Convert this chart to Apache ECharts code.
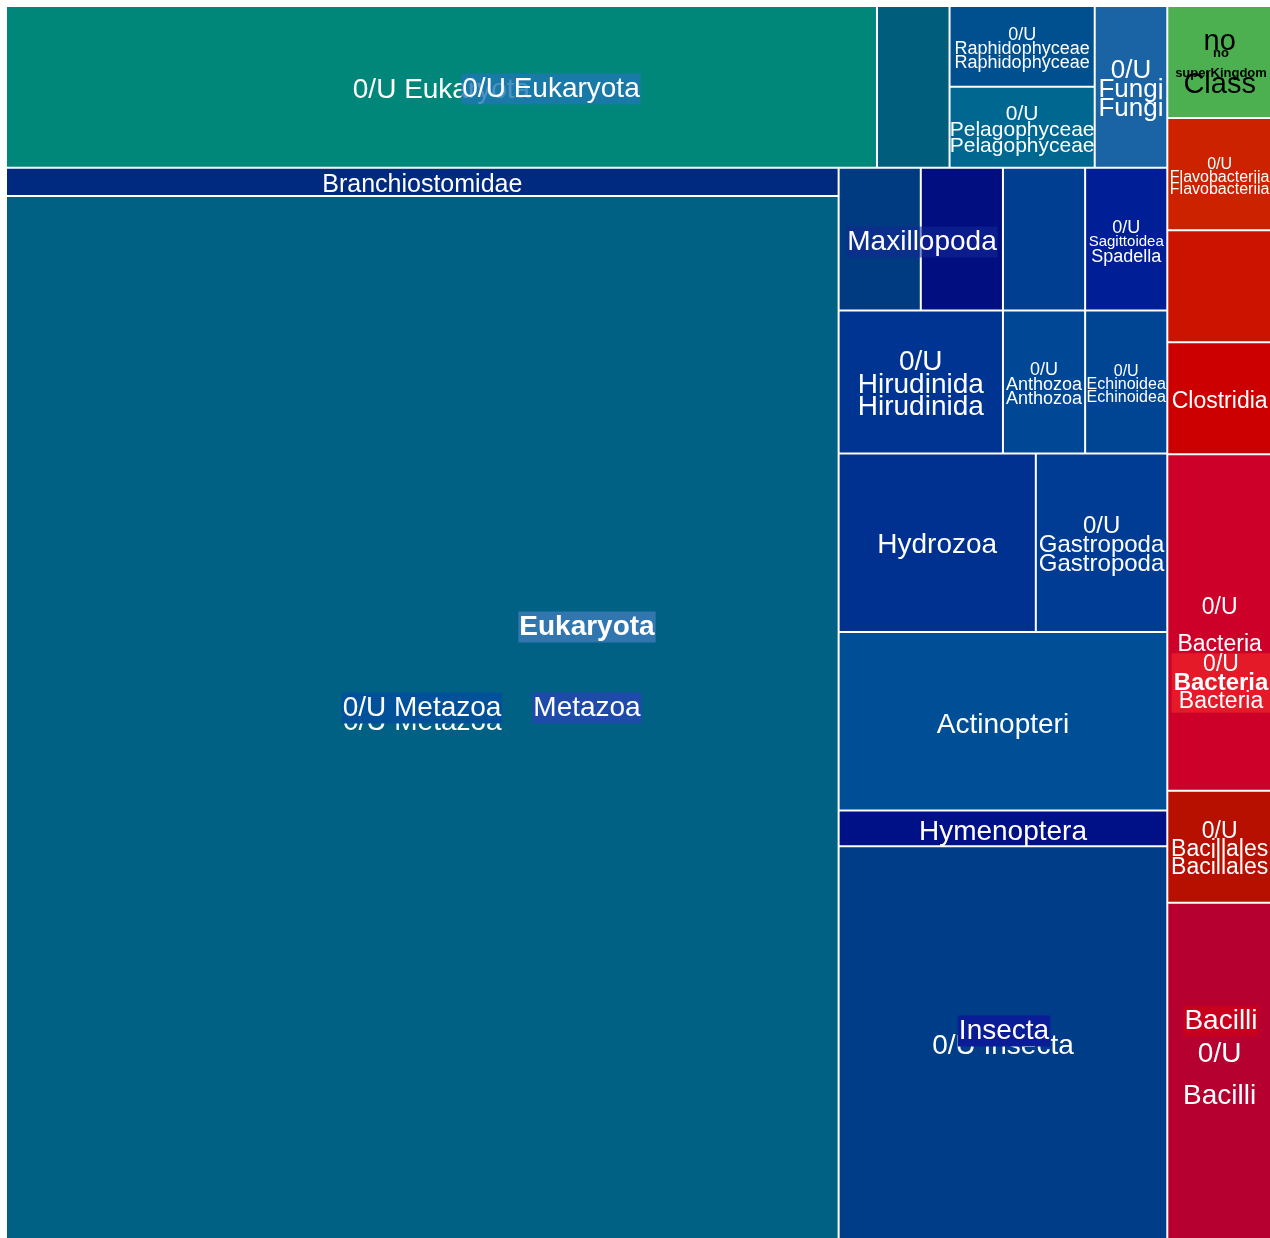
<!DOCTYPE html>
<html>
<head>
<meta charset="utf-8">
<script src="https://cdn.jsdelivr.net/npm/echarts@6/dist/echarts.min.js"></script>
<style>
  html, body { margin: 0; padding: 0; background: #fff; overflow: hidden; }
  #main { width: 1270px; height: 1238px; }
</style>
</head>
<body>
<div id="main"></div>
<script>
// counts per taxon, grouped the way the boxes are nested
const topNames = ['Eukaryota', 'unlabelled-1', 'Raphidophyceae', 'Pelagophyceae', 'Fungi'];
const topCounts = [12, 1, 1, 1, 1];
const chordNames = ['Branchiostomidae', 'Metazoa'];
const chordCounts = [2, 74];
const row1Names = ['Maxillopoda', 'unlabelled-2', 'unlabelled-3', 'Sagittoidea'];
const row1Counts = [1, 1, 1, 1];
const row2Names = ['Hirudinida', 'Anthozoa', 'Echinoidea'];
const row2Counts = [2, 1, 1];
const row3Names = ['Hydrozoa', 'Gastropoda'];
const row3Counts = [3, 2];
const lowNames = ['Actinopteri', 'Hymenoptera', 'Insecta'];
const lowCounts = [5, 1, 11];
const bactNames = ['no superKingdom', 'Flavobacteriia', 'unlabelled-4', 'Clostridia', 'Bacteria', 'Bacillales', 'Bacilli'];
const bactCounts = [1, 1, 1, 1, 3, 1, 3];

const FONT = '"Liberation Sans", Arial, sans-serif';
const LABEL_SHIFT = 3;

const colors = {
    'Eukaryota': '#00877A',
    'unlabelled-1': '#005E7C',
    'Raphidophyceae': '#00508F',
    'Pelagophyceae': '#006890',
    'Fungi': '#1A64A6',
    'Branchiostomidae': '#002A80',
    'Metazoa': '#006184',
    'Maxillopoda': '#003A80',
    'unlabelled-2': '#000E80',
    'unlabelled-3': '#003E92',
    'Sagittoidea': '#001F96',
    'Hirudinida': '#003492',
    'Anthozoa': '#004795',
    'Echinoidea': '#004494',
    'Hydrozoa': '#003190',
    'Gastropoda': '#003C94',
    'Actinopteri': '#004E96',
    'Hymenoptera': '#001086',
    'Insecta': '#003D88',
    'no superKingdom': '#4CAF50',
    'Flavobacteriia': '#CC2200',
    'unlabelled-4': '#CC1300',
    'Clostridia': '#CC0000',
    'Bacteria': '#CC0028',
    'Bacillales': '#B70F00',
    'Bacilli': '#B6002F',
};

// text shown inside each leaf (lines overlap on purpose, like the source)
const labelSpec = {
    'Eukaryota': { text: '0/U Eukaryota', size: 28, lh: 30 },
    'Raphidophyceae': { text: '0/U\nRaphidophyceae\nRaphidophyceae', size: 18, lh: 14 },
    'Pelagophyceae': { text: '0/U\nPelagophyceae\nPelagophyceae', size: 21, lh: 16 },
    'Fungi': { text: '0/U\nFungi\nFungi', size: 26, lh: 19 },
    'Branchiostomidae': { text: 'Branchiostomidae', size: 25, lh: 24 },
    'Metazoa': { text: '0/U Metazoa', size: 28, lh: 30, dy: 2 },
    'Sagittoidea': {
        text: '{a|0/U}\n{b|Sagittoidea}\n{a|Spadella}', size: 18, lh: 14.5,
        rich: {
            a: { fontSize: 18, lineHeight: 14.5, color: '#fff', fontFamily: FONT },
            b: { fontSize: 15, lineHeight: 14.5, color: '#fff', fontFamily: FONT },
        },
    },
    'Hirudinida': { text: '0/U\nHirudinida\nHirudinida', size: 28, lh: 22.5 },
    'Anthozoa': { text: '0/U\nAnthozoa\nAnthozoa', size: 18, lh: 14.5 },
    'Echinoidea': { text: '0/U\nEchinoidea\nEchinoidea', size: 16, lh: 13 },
    'Hydrozoa': { text: 'Hydrozoa', size: 28, lh: 30 },
    'Gastropoda': { text: '0/U\nGastropoda\nGastropoda', size: 24, lh: 19 },
    'Actinopteri': { text: 'Actinopteri', size: 28, lh: 30, dy: 1 },
    'Hymenoptera': { text: 'Hymenoptera', size: 28, lh: 30, dy: 1 },
    'Insecta': { text: '0/U Insecta', size: 28, lh: 30, dy: 1 },
    'no superKingdom': { text: 'no\n\nClass', size: 29, lh: 21.5, color: '#000', dy: -2 },
    'Flavobacteriia': { text: '0/U\nFlavobacteriia\nFlavobacteriia', size: 16, lh: 12.5 },
    'Clostridia': { text: 'Clostridia', size: 23, lh: 26 },
    'Bacteria': { text: '0/U\nBacteria', size: 23, lh: 37, dy: 1 },
    'Bacillales': { text: '0/U\nBacillales\nBacillales', size: 23, lh: 18 },
    'Bacilli': { text: '0/U\nBacilli', size: 28, lh: 42, dy: 1 },
};

// labels of the hidden parent levels, drawn over the boxes
const overlays = [
    { text: '0/U Eukaryota', x: 551, y: 89, size: 28, bg: 'rgba(31,119,180,0.8)' },
    { text: 'Eukaryota', x: 587, y: 627, size: 28, bold: true, bg: '#3276AF' },
    { text: '0/U Metazoa', x: 422, y: 708, size: 28, bg: '#00509A' },
    { text: 'Metazoa', x: 587, y: 708, size: 28, bg: '#1E4BAA' },
    { text: 'Maxillopoda', x: 922, y: 242, size: 28, bg: 'rgba(20,40,150,0.55)' },
    { text: 'Insecta', x: 1004, y: 1031, size: 28, bg: '#0A1C96' },
    { text: 'Bacilli', x: 1221, y: 1021, size: 28, bg: '#C8001E' },
    { text: 'no\nsuperKingdom', x: 1221, y: 63, size: 13, bold: true, lh: 20, color: '#000' },
];

// top padding per leaf, filled in once the layout is known (treemap labels sit at the top of the box)
const padTop = {};

function leaf(name, value) {
    const spec = labelSpec[name];
    return {
        name,
        value,
        itemStyle: { color: colors[name], borderColor: '#fff', borderWidth: 1 },
        label: spec ? {
            show: true,
            formatter: spec.text,
            fontSize: spec.size,
            lineHeight: spec.lh,
            color: spec.color || '#fff',
            padding: [padTop[name] || 0, 0, 0, 0],
            offset: [0, LABEL_SHIFT + (spec.dy || 0)],
            rich: spec.rich || {},
        } : { show: false },
    };
}

function leaves(names, counts) {
    return names.map((n, i) => leaf(n, counts[i]));
}

function group(name, children) {
    return {
        name,
        children,
        itemStyle: { borderWidth: 0, gapWidth: 0 },
        label: { show: false },
        upperLabel: { show: false },
    };
}

function buildData() {
    return [
        group('eukaryota-side', [
            group('top-strip', [
                leaf(topNames[0], topCounts[0]),
                leaf(topNames[1], topCounts[1]),
                group('stramenopiles', [leaf(topNames[2], topCounts[2]), leaf(topNames[3], topCounts[3])]),
                leaf(topNames[4], topCounts[4]),
            ]),
            group('animals', [
                group('chordates', leaves(chordNames, chordCounts)),
                group('others', [
                    group('row1', leaves(row1Names, row1Counts)),
                    group('row2', leaves(row2Names, row2Counts)),
                    group('row3', leaves(row3Names, row3Counts)),
                    ...leaves(lowNames, lowCounts),
                ]),
            ]),
        ]),
        group('bacteria-side', leaves(bactNames, bactCounts)),
    ];
}

const chart = echarts.init(document.getElementById('main'));
chart.setOption({
    animation: false,
    series: [{
        type: 'treemap',
        left: 6,
        top: 6,
        width: 1266,
        height: 1233,
        roam: false,
        nodeClick: false,
        breadcrumb: { show: false },
        sort: false,
        // tiny ratio: every child cuts its own strip across the short side
        squareRatio: 1e-6,
        visibleMin: 0,
        itemStyle: { borderWidth: 0, gapWidth: 0, borderColor: '#fff' },
        label: {
            show: true,
            position: 'inside',
            overflow: 'none',
            fontFamily: FONT,
            color: '#fff',
        },
        upperLabel: { show: false },
        emphasis: { disabled: true },
        data: buildData(),
    }],
    graphic: overlays.map((o) => ({
        type: 'text',
        x: o.x,
        y: o.y,
        z: 100,
        silent: true,
        style: {
            text: o.text,
            fill: o.color || '#fff',
            fontSize: o.size,
            fontWeight: o.bold ? 'bold' : 'normal',
            fontFamily: FONT,
            lineHeight: o.lh || Math.round(o.size * 1.1),
            align: 'center',
            verticalAlign: 'middle',
            textAlign: 'center',
            textVerticalAlign: 'middle',
            backgroundColor: o.bg || 'transparent',
            padding: o.bg ? [0, 1] : 0,
        },
    })).concat([{
        type: 'text',
        x: 1221,
        y: 683,
        z: 100,
        silent: true,
        style: {
            text: '{a|0/U}\n{b|Bacteria}\n{a|Bacteria}',
            fill: '#fff',
            fontSize: 23,
            fontFamily: FONT,
            align: 'center',
            verticalAlign: 'middle',
            textAlign: 'center',
            textVerticalAlign: 'middle',
            backgroundColor: 'rgba(232,30,40,0.85)',
            padding: [2, 2],
            rich: {
                a: { fontSize: 23, lineHeight: 18.5, fill: '#fff', fontFamily: FONT },
                b: { fontSize: 24, lineHeight: 18.5, fontWeight: 'bold', fill: '#fff', fontFamily: FONT },
            },
        },
    }]),
});

// centre the labels vertically using the box heights the treemap came up with
const tree = chart.getModel().getSeriesByIndex(0).getData().tree;
tree.root.eachNode((node) => {
    if (node.children && node.children.length) return;
    const spec = labelSpec[node.name];
    const lay = node.getLayout();
    if (!spec || !lay) return;
    const h = lay.height - 2 * (lay.borderWidth || 0);
    const lines = spec.text.split('\n').length;
    padTop[node.name] = Math.max(0, (h - lines * spec.lh) / 2);
});
chart.setOption({ series: [{ data: buildData() }] });
</script>
</body>
</html>
